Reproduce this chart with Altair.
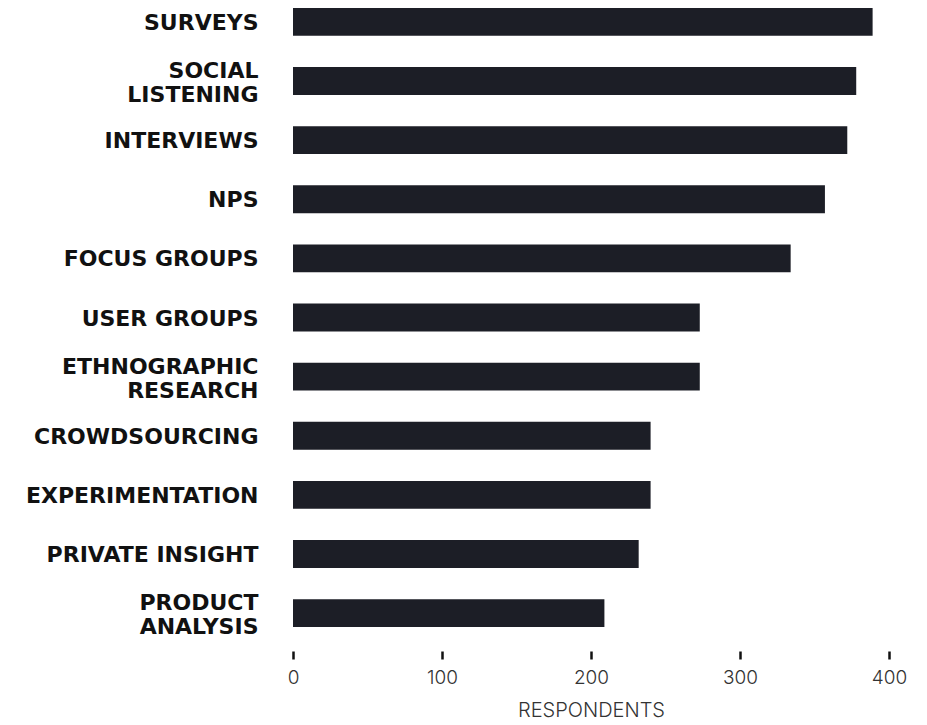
import altair as alt
import pandas as pd

methods = [
    "SURVEYS", "SOCIAL\nLISTENING", "INTERVIEWS", "NPS", "FOCUS GROUPS",
    "USER GROUPS", "ETHNOGRAPHIC\nRESEARCH", "CROWDSOURCING",
    "EXPERIMENTATION", "PRIVATE INSIGHT", "PRODUCT\nANALYSIS",
]
respondents = [389, 378, 372, 357, 334, 273, 273, 240, 240, 232, 209]
x_ticks = [0, 100, 200, 300, 400]

df = pd.DataFrame({"method": methods, "respondents": respondents})

chart = alt.Chart(df).mark_bar(color="#1c1e26").encode(
    x=alt.X(
        "respondents:Q",
        title="RESPONDENTS",
        scale=alt.Scale(domain=[0, 400], nice=False),
        axis=alt.Axis(
            values=x_ticks, grid=False, domain=False, offset=24,
            tickSize=8, tickWidth=2.5, tickColor="#111111",
            labelFlush=False,
            labelFont="Inter", labelFontWeight=300, labelFontSize=19,
            labelColor="#333333", labelPadding=9,
            titleFont="Inter", titleFontWeight=300, titleFontSize=20,
            titleColor="#333333", titlePadding=13,
        ),
    ),
    y=alt.Y(
        "method:N", sort=None, title=None,
        scale=alt.Scale(paddingInner=0.53, paddingOuter=0),
        axis=alt.Axis(
            ticks=False, domain=False, grid=False,
            labelExpr="split(datum.value, '\\n')",
            labelOffset={
                "condition": {"test": "indexof(datum.value, '\\n') >= 0", "value": -10},
                "value": 1,
            },
            labelFont="DejaVu Sans", labelFontWeight="bold", labelFontSize=22,
            labelColor="#111111", labelPadding=35, labelLineHeight=24,
            labelLimit=400,
        ),
    ),
).properties(
    width=596, height=619,
    autosize=alt.AutoSizeParams(type="none"),
    padding={"left": 285, "top": 0, "right": 30, "bottom": 95},
).configure_view(stroke=None)

chart.save("out.html", embed_options={"renderer": "svg", "actions": False})
